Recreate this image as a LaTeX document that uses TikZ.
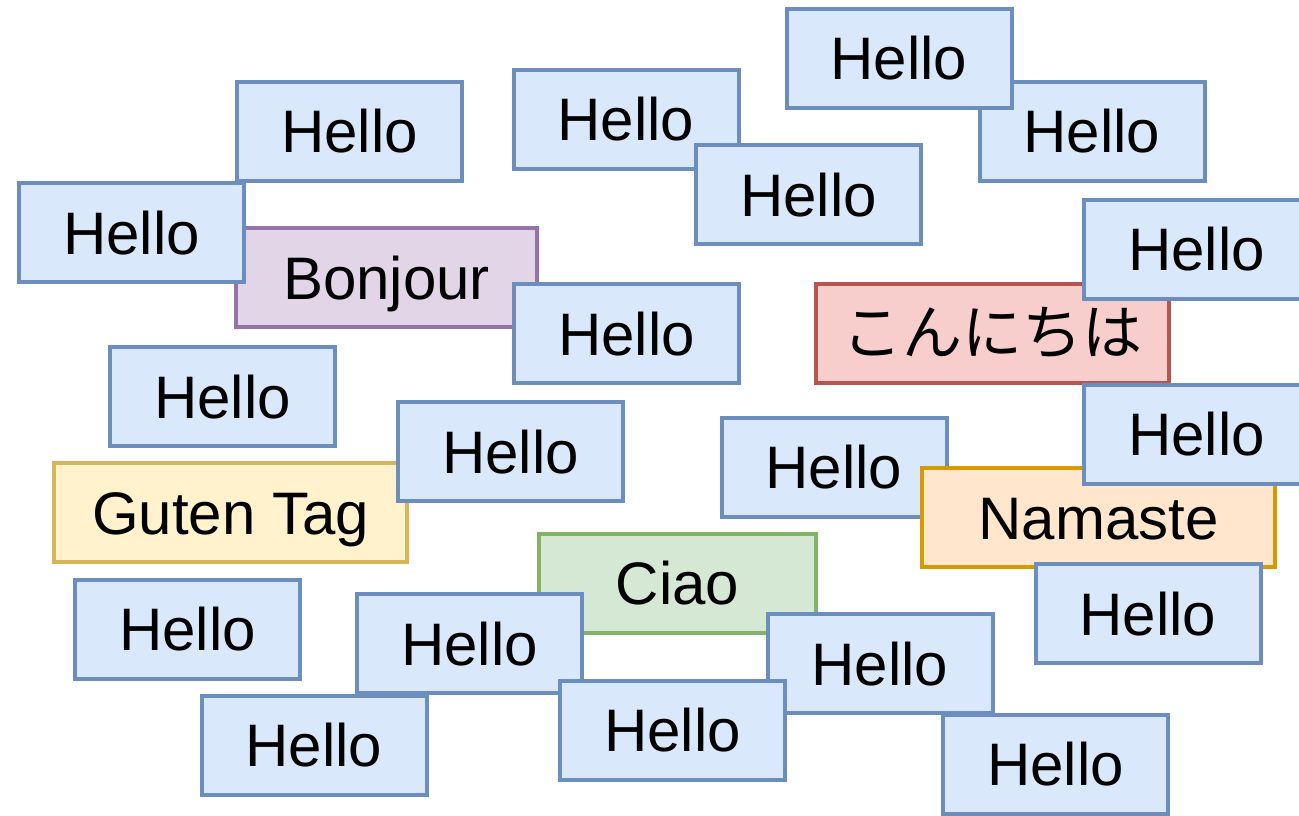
\documentclass[tikz,border=0pt]{standalone}
\usepackage{fontspec}
\setmainfont{Liberation Sans}
\newfontfamily\jpfont{Noto Sans CJK JP}
\definecolor{hfill}{HTML}{DAE8FC}\definecolor{hdraw}{HTML}{6C8EBF}
\definecolor{pfill}{HTML}{E1D5E7}\definecolor{pdraw}{HTML}{9673A6}
\definecolor{rfill}{HTML}{F8CECC}\definecolor{rdraw}{HTML}{B85450}
\definecolor{yfill}{HTML}{FFF2CC}\definecolor{ydraw}{HTML}{D6B656}
\definecolor{ofill}{HTML}{FFE6CC}\definecolor{odraw}{HTML}{D79B00}
\definecolor{gfill}{HTML}{D5E8D4}\definecolor{gdraw}{HTML}{82B366}
\tikzset{
  box/.style={draw, line width=4pt, rectangle, inner sep=0pt, minimum height=99pt,
    text height=43pt, text depth=0pt, font=\fontsize{60}{72}\selectfont},
  hello/.style={box, fill=hfill, draw=hdraw, minimum width=225pt},
  wide/.style={minimum width=353pt},
}
\begin{document}
\begin{tikzpicture}[x=1pt,y=-1pt]
\useasboundingbox (0,0) rectangle (1299,815);
\clip (0,0) rectangle (1299,815);
\node[hello] (h1) at (349.5,131) {Hello};
\node[box, fill=pfill, draw=pdraw, minimum width=301pt] (bonjour) at (386.5,277.5) {Bonjour};
\node[hello] (h2) at (131.5,232.5) {Hello};
\node[hello] (h10) at (626.5,333.5) {Hello};
\node[hello] (h4) at (626,119) {Hello};
\node[hello] (h5) at (808.5,194.5) {Hello};
\node[hello] (h7) at (1092,131) {Hello};
\node[hello] (h6) at (899,58) {Hello};
\node[box, wide, fill=rfill, draw=rdraw] (konnichiwa) at (992,333) {\jpfont こんにちは};
\node[hello] (h8) at (1196.5,249) {Hello};
\node[hello] (h11) at (222.5,396.5) {Hello};
\node[box, wide, fill=yfill, draw=ydraw] (guten) at (230.5,512.5) {Guten Tag};
\node[hello] (h12) at (510.5,451.5) {Hello};
\node[hello] (h14) at (834,467) {Hello};
\node[box, wide, fill=ofill, draw=odraw] (namaste) at (1098.5,517.5) {Namaste};
\node[hello] (h15) at (1196.5,434) {Hello};
\node[hello] (h17) at (1148,613.5) {Hello};
\node[hello] (h19) at (187.5,629) {Hello};
\node[box, fill=gfill, draw=gdraw, minimum width=277pt] (ciao) at (677.5,583) {Ciao};
\node[hello] (h20) at (469.5,643.5) {Hello};
\node[hello] (h21) at (880,663.5) {Hello};
\node[hello] (h22) at (672.5,730) {Hello};
\node[hello] (h23) at (314,745) {Hello};
\node[hello] (h24) at (1055.5,764) {Hello};
\end{tikzpicture}
\end{document}
